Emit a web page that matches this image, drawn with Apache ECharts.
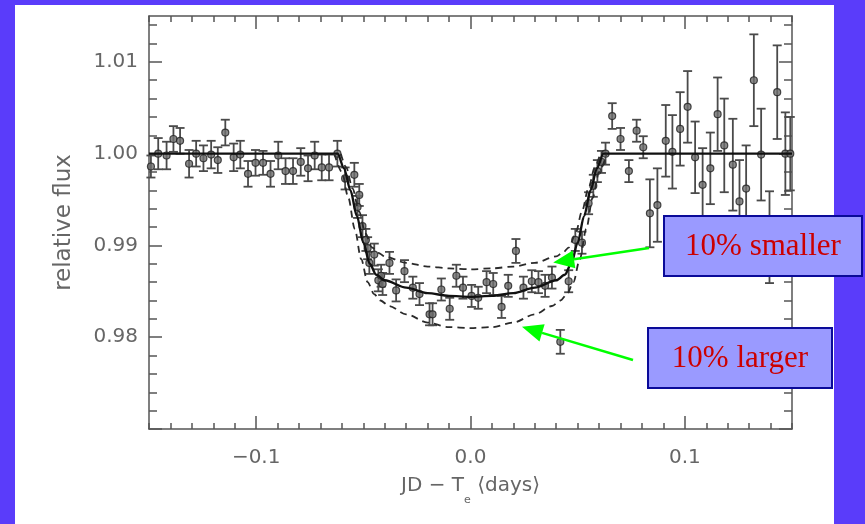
<!DOCTYPE html>
<html>
<head>
<meta charset="utf-8">
<script src="https://cdn.jsdelivr.net/npm/echarts@6/dist/echarts.min.js"></script>
<style>
  html, body { margin: 0; padding: 0; background: #5a3cfa; }
  #panel { position: absolute; left: 15px; top: 5px; width: 819px; height: 519px; background: #ffffff; }
  #chart { position: absolute; left: 0; top: 0; width: 865px; height: 524px; }
</style>
</head>
<body>
<div id="panel"></div>
<div id="chart"></div>
<script>
// Photometry: time from mid-transit (days), relative flux and 1-sigma errors
const timeDays = [
  -0.1491, -0.1457, -0.1418, -0.1386, -0.1355, -0.1313, -0.1280, -0.1246, -0.1210, -0.1179,
  -0.1144, -0.1105, -0.1074, -0.1038, -0.1003, -0.0968, -0.0933, -0.0897, -0.0863, -0.0828,
  -0.0792, -0.0758, -0.0727, -0.0694, -0.0660, -0.0621,
  -0.0585, -0.0542, -0.0527, -0.0519, -0.0504, -0.0488, -0.0480, -0.0472, -0.0449, -0.0430,
  -0.0417, -0.0410, -0.0378, -0.0347, -0.0308, -0.0269, -0.0238, -0.0191, -0.0177, -0.0136,
  -0.0097, -0.0066, -0.0035, 0.0005, 0.0036, 0.0075, 0.0106, 0.0145, 0.0176, 0.0212,
  0.0247, 0.0286, 0.0317, 0.0348, 0.0380, 0.0419, 0.0458, 0.0489, 0.0520, 0.0551,
  0.0573, 0.0592, 0.0611, 0.0630,
  0.0661, 0.0700, 0.0739, 0.0775, 0.0806, 0.0837, 0.0872, 0.0911, 0.0942, 0.0978,
  0.1013, 0.1048, 0.1083, 0.1119, 0.1153, 0.1184, 0.1224, 0.1255, 0.1286, 0.1322,
  0.1356, 0.1395, 0.1431, 0.1469, 0.1492
];
const relFlux = [
  0.9986, 1.0000, 0.9998, 1.0016, 1.0014, 0.9989, 1.0000, 0.9995, 0.9999, 0.9993,
  1.0023, 0.9996, 0.9999, 0.9978, 0.9990, 0.9990, 0.9978, 0.9998, 0.9981, 0.9981,
  0.9991, 0.9984, 0.9998, 0.9985, 0.9985, 1.0000,
  0.9973, 0.9977, 0.9942, 0.9955, 0.9921, 0.9906, 0.9897, 0.9881, 0.9890, 0.9862,
  0.9867, 0.9858, 0.9881, 0.9851, 0.9872, 0.9854, 0.9847, 0.9825, 0.9825, 0.9852,
  0.9831, 0.9867, 0.9854, 0.9845, 0.9843, 0.9860, 0.9858, 0.9833, 0.9856, 0.9894,
  0.9854, 0.9861, 0.9860, 0.9856, 0.9865, 0.9795, 0.9861, 0.9906, 0.9903, 0.9946,
  0.9965, 0.9981, 0.9991, 1.0000,
  1.0041, 1.0016, 0.9981, 1.0025, 1.0007, 0.9935, 0.9944, 1.0014, 1.0002, 1.0027,
  1.0051, 0.9996, 0.9966, 0.9984, 1.0043, 1.0009, 0.9988, 0.9948, 0.9962, 1.0080,
  0.9999, 0.9909, 1.0067, 1.0000, 1.0000
];
const fluxErr = [
  0.0012, 0.0017, 0.0015, 0.0014, 0.0014, 0.0015, 0.0014, 0.0014, 0.0015, 0.0014,
  0.0014, 0.0015, 0.0015, 0.0014, 0.0014, 0.0013, 0.0014, 0.0015, 0.0014, 0.0014,
  0.0015, 0.0014, 0.0015, 0.0014, 0.0014, 0.0014,
  0.0012, 0.0013, 0.0012, 0.0012, 0.0012, 0.0012, 0.0012, 0.0012, 0.0012, 0.0012,
  0.0012, 0.0012, 0.0012, 0.0012, 0.0012, 0.0012, 0.0012, 0.0012, 0.0012, 0.0012,
  0.0012, 0.0012, 0.0012, 0.0012, 0.0012, 0.0012, 0.0012, 0.0012, 0.0012, 0.0013,
  0.0012, 0.0012, 0.0012, 0.0012, 0.0012, 0.0013, 0.0012, 0.0012, 0.0012, 0.0012,
  0.0012, 0.0012, 0.0012, 0.0012,
  0.0014, 0.0012, 0.0012, 0.0012, 0.0012, 0.0037, 0.0040, 0.0039, 0.0040, 0.0040,
  0.0039, 0.0039, 0.0040, 0.0039, 0.0040, 0.0051, 0.0050, 0.0045, 0.0047, 0.0050,
  0.0050, 0.0050, 0.0051, 0.0045, 0.0040
];

// Best-fit transit model
const modelTime = [-0.150, -0.062, -0.059, -0.056, -0.053, -0.050, -0.047, -0.044, -0.040, -0.030, -0.020, -0.010, 0.000,
                   0.010, 0.020, 0.030, 0.040, 0.044, 0.047, 0.050, 0.053, 0.056, 0.059, 0.062, 0.150];
const modelFlux = [1.0000, 1.0000, 0.9984, 0.9960, 0.9932, 0.9903, 0.9880, 0.9868, 0.9862, 0.9854, 0.9848, 0.9845, 0.9844,
                   0.9845, 0.9848, 0.9854, 0.9862, 0.9868, 0.9880, 0.9903, 0.9932, 0.9960, 0.9984, 1.0000, 1.0000];

// Model with a planet radius 10% smaller
const smallerTime = [-0.0605, -0.058, -0.055, -0.052, -0.049, -0.046, -0.043, -0.040, -0.030, -0.020, -0.010, 0.000,
                     0.010, 0.020, 0.030, 0.040, 0.043, 0.046, 0.049, 0.052, 0.055, 0.058, 0.0605];
const smallerFlux = [1.0000, 0.9985, 0.9962, 0.9937, 0.9913, 0.9898, 0.9892, 0.9888, 0.9881, 0.9877, 0.9875, 0.9874,
                     0.9875, 0.9877, 0.9881, 0.9888, 0.9892, 0.9898, 0.9913, 0.9937, 0.9962, 0.9985, 1.0000];

// Model with a planet radius 10% larger
const largerTime = [-0.0635, -0.060, -0.057, -0.054, -0.051, -0.048, -0.045, -0.042, -0.038, -0.030, -0.020, -0.010, 0.000,
                    0.010, 0.020, 0.030, 0.038, 0.042, 0.045, 0.048, 0.051, 0.054, 0.057, 0.060, 0.0635];
const largerFlux = [1.0000, 0.9980, 0.9952, 0.9918, 0.9885, 0.9860, 0.9847, 0.9840, 0.9834, 0.9825, 0.9816, 0.9811, 0.9810,
                    0.9811, 0.9816, 0.9825, 0.9834, 0.9840, 0.9847, 0.9860, 0.9885, 0.9918, 0.9952, 0.9980, 1.0000];

// Axis ranges and labelled ticks
const xRange = [-0.15, 0.15];
const yRange = [0.97, 1.015];
const xLabelTicks = [-0.1, 0.0, 0.1];
const yMajorTicks = [0.97, 0.98, 0.99, 1.00, 1.01];
const yLabelTicks = [0.98, 0.99, 1.00, 1.01];

// Callout text and the curve points the arrows point at
const calloutText = ['10% smaller', '10% larger'];
const calloutTargets = [[0.0386, 0.98815], [0.0240, 0.98113]];

const axisGrey = '#555';
const tickStyle = { color: axisGrey, width: 1.5 };
const labelFont = { fontFamily: 'DejaVu Sans', fontSize: 20, color: '#666' };

function fmtX(v) {
  const s = Math.abs(v).toFixed(1);
  return v < -1e-9 ? '\u2212' + s : s;
}

function xAxisFor(position, withLine, major) {
  return {
    type: 'value', position: position, min: xRange[0], max: xRange[1],
    interval: major ? undefined : 0.01,
    axisLine: { show: withLine, onZero: false, lineStyle: tickStyle },
    axisTick: major
      ? { show: true, inside: true, length: 13, customValues: xLabelTicks, lineStyle: tickStyle }
      : { show: true, inside: true, length: 6, lineStyle: tickStyle },
    axisLabel: { show: false },
    splitLine: { show: false }
  };
}

const xAxes = [
  Object.assign(xAxisFor('bottom', true, false), {
    axisLabel: Object.assign({ show: true, customValues: xLabelTicks, formatter: fmtX, margin: 19 }, labelFont),
    name: '{m|JD \u2212 T}{s|e}{m| \u27E8days\u27E9}',
    nameLocation: 'middle',
    nameGap: 37,
    nameTextStyle: {
      rich: {
        m: { fontFamily: 'DejaVu Sans', fontSize: 20, color: '#666', lineHeight: 40 },
        s: { fontFamily: 'DejaVu Sans', fontSize: 11, color: '#666', lineHeight: 40, verticalAlign: 'bottom' }
      }
    }
  }),
  xAxisFor('bottom', false, true),
  xAxisFor('top', true, false),
  xAxisFor('top', false, true)
];

function yAxisFor(position, withLabels) {
  const ax = {
    type: 'value', position: position, min: yRange[0], max: yRange[1], interval: 0.01,
    axisLine: { show: true, onZero: false, lineStyle: tickStyle },
    axisTick: { show: true, inside: true, length: 13, customValues: yMajorTicks, lineStyle: tickStyle },
    minorTick: { show: true, splitNumber: 5, length: 8, lineStyle: tickStyle },
    axisLabel: { show: false },
    splitLine: { show: false }
  };
  if (withLabels) {
    ax.axisLabel = Object.assign({ show: true, customValues: yLabelTicks, formatter: v => v.toFixed(2), margin: 11 }, labelFont);
    ax.name = 'relative flux';
    ax.nameLocation = 'middle';
    ax.nameRotate = 90;
    ax.nameGap = 73;
    ax.nameTextStyle = { fontFamily: 'DejaVu Sans', fontSize: 23, color: '#666' };
  }
  return ax;
}

const pts = timeDays.map((t, i) => [t, relFlux[i]]);
const bars = timeDays.map((t, i) => [t, relFlux[i] - fluxErr[i], relFlux[i] + fluxErr[i]]);
const pairs = (xs, ys) => xs.map((x, i) => [x, ys[i]]);

function renderErrorBar(params, api) {
  const t = api.value(0);
  const lo = api.coord([t, api.value(1)]);
  const hi = api.coord([t, api.value(2)]);
  const cap = 4.5;
  const st = { stroke: '#4a4a4a', lineWidth: 1.8 };
  return {
    type: 'group',
    children: [
      { type: 'line', shape: { x1: lo[0], y1: lo[1], x2: hi[0], y2: hi[1] }, style: st },
      { type: 'line', shape: { x1: lo[0] - cap, y1: lo[1], x2: lo[0] + cap, y2: lo[1] }, style: st },
      { type: 'line', shape: { x1: hi[0] - cap, y1: hi[1], x2: hi[0] + cap, y2: hi[1] }, style: st }
    ]
  };
}

const chart = echarts.init(document.getElementById('chart'), null, { renderer: 'canvas' });

const curveLine = (data, dashed) => ({
  type: 'line', data: data, xAxisIndex: 0, yAxisIndex: 0,
  symbol: 'none', smooth: 0.3, smoothMonotone: 'x', z: 5, silent: true,
  lineStyle: dashed ? { color: '#2a2a2a', width: 1.8, type: [7, 5] } : { color: '#111', width: 2.4 }
});

chart.setOption({
  animation: false,
  backgroundColor: 'transparent',
  grid: { left: 149, right: 73, top: 16, bottom: 95, containLabel: false },
  xAxis: xAxes,
  yAxis: [yAxisFor('left', true), yAxisFor('right', false)],
  series: [
    { type: 'custom', data: bars, renderItem: renderErrorBar, encode: { x: 0, y: [1, 2] }, z: 2, silent: true },
    {
      type: 'scatter', data: pts, symbol: 'circle', symbolSize: 7, z: 3, silent: true,
      itemStyle: { color: '#6e6e6e', borderColor: '#222', borderWidth: 1.2 }
    },
    curveLine(pairs(modelTime, modelFlux), false),
    curveLine(pairs(smallerTime, smallerFlux), true),
    curveLine(pairs(largerTime, largerFlux), true)
  ]
});

// Callout boxes with green arrows pointing at the alternative-radius curves
const boxes = [
  { x: 664, y: 216, w: 198, h: 60, tail: [649, 248] },
  { x: 648, y: 328, w: 184, h: 60, tail: [633, 360] }
];

function arrowGraphics(tail, tip) {
  const dx = tip[0] - tail[0], dy = tip[1] - tail[1];
  const len = Math.hypot(dx, dy);
  const ux = dx / len, uy = dy / len;
  const headL = 21, headW = 9;
  const bx = tip[0] - ux * headL, by = tip[1] - uy * headL;
  const nx = -uy, ny = ux;
  return [
    { type: 'line', z: 100, shape: { x1: tail[0], y1: tail[1], x2: bx, y2: by }, style: { stroke: '#00ff00', lineWidth: 2.5 } },
    { type: 'polygon', z: 100, shape: { points: [tip, [bx + nx * headW, by + ny * headW], [bx - nx * headW, by - ny * headW]] },
      style: { fill: '#00ff00' } }
  ];
}

const graphics = [];
boxes.forEach((b, i) => {
  graphics.push({
    type: 'rect', z: 100, shape: { x: b.x, y: b.y, width: b.w, height: b.h },
    style: { fill: '#9a9aff', stroke: '#0a0a99', lineWidth: 2 }
  });
  graphics.push({
    type: 'text', z: 101, x: b.x + b.w / 2, y: b.y + b.h / 2 + 1,
    style: { text: calloutText[i], fill: '#cc0000', font: '31px "Liberation Serif", "Times New Roman", serif',
             textAlign: 'center', textVerticalAlign: 'middle' }
  });
  const tip = chart.convertToPixel({ xAxisIndex: 0, yAxisIndex: 0 }, calloutTargets[i]);
  arrowGraphics(b.tail, tip).forEach(g => graphics.push(g));
});

chart.setOption({ graphic: { elements: graphics } });
</script>
</body>
</html>
